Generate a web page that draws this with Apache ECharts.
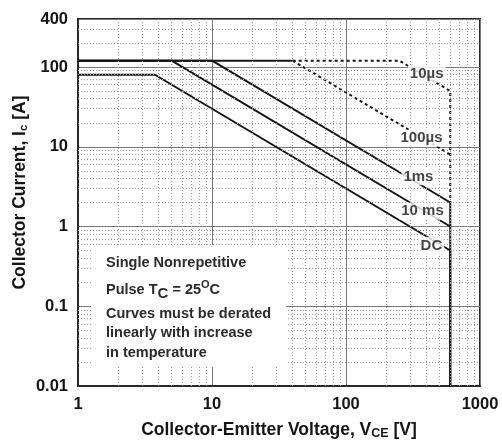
<!DOCTYPE html>
<html>
<head>
<meta charset="utf-8">
<style>
  html, body { margin: 0; padding: 0; background: #fff; }
  #chart { width: 502px; height: 443px; }
</style>
<script src="https://cdn.jsdelivr.net/npm/echarts@6/dist/echarts.min.js"></script>
</head>
<body>
<div id="chart"></div>
<script>
// Safe operating area curves: collector-emitter voltage [V] vs collector current [A]
const dcVoltage = [1, 3.75, 600, 600];
const dcCurrent = [80, 80, 0.5, 0.01];
const ms10Voltage = [1, 5, 600];
const ms10Current = [120, 120, 1];
const ms1Voltage = [1, 10, 600, 600];
const ms1Current = [120, 120, 2, 0.01];
const us100SolidVoltage = [1, 40];
const us100SolidCurrent = [120, 120];
const us100DottedVoltage = [40, 600];
const us100DottedCurrent = [120, 8];
const us10Voltage = [40, 250, 600, 600];
const us10Current = [120, 120, 50, 2];

// Curve captions and the point on each curve where they sit
const curveLabels = ['10\u00b5s', '100\u00b5s', '1ms', '10 ms', 'DC'];
const labelVoltage = [400, 366, 347, 372, 434];
const labelCurrent = [82, 12.8, 4.2, 1.55, 0.58];

// Axis extents and tick values
const xMin = 1, xMax = 1000;
const yMin = 0.01, yMax = 400;
const minorSteps = [2, 3, 4, 5, 6, 7, 8, 9];

const FONT = 'Liberation Sans, Arial, Helvetica, sans-serif';
const INK = '#151515';
const NOTE = '#2b2b2b';

function pairs(xs, ys) { return xs.map((x, i) => [x, ys[i]]); }

function minorValues(lo, hi) {
  const out = [];
  for (let d = lo; d < hi; d *= 10) {
    minorSteps.forEach(m => { const v = +(m * d).toPrecision(6); if (v < hi) out.push(v); });
  }
  return out;
}

const minorX = minorValues(xMin, xMax);
const minorY = minorValues(yMin, yMax);

function curve(name, xs, ys, dotted) {
  return {
    name, type: 'line', data: pairs(xs, ys), symbol: 'none', silent: true,
    lineStyle: { color: INK, width: 2, type: dotted ? [3, 3] : 'solid' },
    z: 3
  };
}

const tickLabel = {
  color: INK, fontFamily: FONT, fontWeight: 'bold', fontSize: 16.5, margin: 10,
  formatter: v => String(Number(v.toPrecision(6)))
};

const chart = echarts.init(document.getElementById('chart'), null, { renderer: 'canvas' });

chart.setOption({
  animation: false,
  backgroundColor: '#fff',
  grid: { left: 78, right: 22, top: 19, bottom: 57, show: true, borderColor: '#2a2a2a', borderWidth: 2,
    containLabel: false, outerBoundsMode: 'none' },
  xAxis: {
    type: 'log', logBase: 10, min: xMin, max: xMax,
    axisLine: { show: true, onZero: false, lineStyle: { color: '#2a2a2a', width: 2 } },
    axisTick: { show: false },
    axisLabel: tickLabel,
    splitLine: { show: true, lineStyle: { color: '#7a7a7a', width: 1 } },
    name: 'Collector-Emitter Voltage, V{sub|CE} [V]',
    nameLocation: 'middle', nameGap: 44, nameMoveOverlap: false,
    nameTextStyle: { color: INK, fontFamily: FONT, fontWeight: 'bold', fontSize: 17.5, lineHeight: 20, verticalAlign: 'middle',
      rich: { sub: { fontFamily: FONT, fontWeight: 'bold', fontSize: 12.5, lineHeight: 15, verticalAlign: 'bottom', color: INK } } }
  },
  yAxis: {
    type: 'log', logBase: 10, min: yMin, max: yMax,
    axisLine: { show: true, onZero: false, lineStyle: { color: '#2a2a2a', width: 2 } },
    axisTick: { show: false },
    axisLabel: tickLabel,
    splitLine: { show: true, lineStyle: { color: '#7a7a7a', width: 1 } },
    name: 'Collector Current, I{sub|c} [A]',
    nameLocation: 'middle', nameGap: 58, nameRotate: 90, nameMoveOverlap: false,
    nameTextStyle: { color: INK, fontFamily: FONT, fontWeight: 'bold', fontSize: 17.5, lineHeight: 20, verticalAlign: 'middle',
      padding: [0, 0, 0, 20],
      rich: { sub: { fontFamily: FONT, fontWeight: 'bold', fontSize: 11.5, lineHeight: 14, verticalAlign: 'bottom', color: INK } } }
  },
  graphic: [
    { type: 'rect', shape: { x: 91, y: 245, width: 195, height: 122 }, style: { fill: '#fff' }, z: 10, silent: true },
    { type: 'text', x: 106, y: 263, z: 11, style: { text: 'Single Nonrepetitive', fill: NOTE, font: 'bold 14.5px ' + FONT, verticalAlign: 'middle' } },
    { type: 'text', x: 106, y: 290, z: 11, style: {
        text: 'Pulse T{sub|C} = 25{sup|O}C', fill: NOTE, font: 'bold 14.5px ' + FONT, verticalAlign: 'middle',
        lineHeight: 22,
        rich: {
          sub: { font: 'bold 15px ' + FONT, fill: NOTE, lineHeight: 15, verticalAlign: 'bottom' },
          sup: { font: 'bold 11px ' + FONT, fill: NOTE, lineHeight: 10, verticalAlign: 'top' }
        } } },
    { type: 'text', x: 106, y: 314, z: 11, style: { text: 'Curves must be derated', fill: NOTE, font: 'bold 14.5px ' + FONT, verticalAlign: 'middle' } },
    { type: 'text', x: 106, y: 333, z: 11, style: { text: 'linearly with increase', fill: NOTE, font: 'bold 14.5px ' + FONT, verticalAlign: 'middle' } },
    { type: 'text', x: 106, y: 353, z: 11, style: { text: 'in temperature', fill: NOTE, font: 'bold 14.5px ' + FONT, verticalAlign: 'middle' } }
  ],
  series: [
    {
      // dotted minor grid at 2..9 of every decade
      name: 'minor grid', type: 'line', data: [], silent: true, z: 1,
      markLine: {
        silent: true, symbol: 'none', label: { show: false }, animation: false,
        lineStyle: { color: '#9a9a9a', width: 1, type: [1, 2] },
        data: minorX.map(v => ({ xAxis: v })).concat(minorY.map(v => ({ yAxis: v })))
      }
    },
    curve('DC', dcVoltage, dcCurrent, false),
    curve('10 ms', ms10Voltage, ms10Current, false),
    curve('1ms', ms1Voltage, ms1Current, false),
    curve('100\u00b5s', us100SolidVoltage, us100SolidCurrent, false),
    curve('100\u00b5s dotted', us100DottedVoltage, us100DottedCurrent, true),
    curve('10\u00b5s', us10Voltage, us10Current, true),
    {
      name: 'captions', type: 'scatter', symbolSize: 0, silent: true, z: 5,
      data: curveLabels.map((t, i) => ({ value: [labelVoltage[i], labelCurrent[i]], name: t })),
      label: {
        show: true, position: 'inside', formatter: p => p.name,
        color: INK, fontFamily: FONT, fontWeight: 'bold', fontSize: 15,
        backgroundColor: '#fff', padding: [1, 2]
      }
    }
  ]
});
</script>
</body>
</html>
